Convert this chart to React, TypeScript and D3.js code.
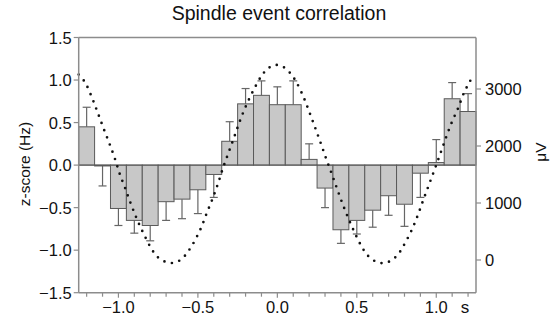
import React from "react";
import * as d3 from "d3";

const binCenters = [-1.2, -1.1, -1.0, -0.9, -0.8, -0.7, -0.6, -0.5, -0.4, -0.3, -0.2, -0.1, 0.0, 0.1, 0.2, 0.3, 0.4, 0.5, 0.6, 0.7, 0.8, 0.9, 1.0, 1.1, 1.2];
const barValues = [0.45, -0.01, -0.51, -0.65, -0.71, -0.43, -0.40, -0.29, -0.11, 0.28, 0.72, 0.82, 0.71, 0.71, 0.067, -0.27, -0.76, -0.65, -0.53, -0.36, -0.46, -0.095, 0.03, 0.78, 0.63];
const errorEnds = [0.68, -0.245, -0.71, -0.80, -0.89, -0.65, -0.63, -0.57, -0.38, 0.51, 0.90, 0.99, 0.92, 0.99, 0.25, -0.50, -0.92, -0.81, -0.73, -0.59, -0.72, -0.38, 0.30, 0.97, 0.84];

const lineTimes = [-1.25, -1.21, -1.166, -1.129, -1.093, -1.057, -1.022, -0.991, -0.955, -0.919, -0.881, -0.837, -0.785, -0.746, -0.695, -0.649, -0.601, -0.561, -0.53, -0.482, -0.444, -0.406, -0.372, -0.341, -0.306, -0.272, -0.237, -0.199, -0.153, -0.1, -0.058, -0.011, 0.038, 0.084, 0.117, 0.163, 0.201, 0.237, 0.272, 0.306, 0.341, 0.375, 0.41, 0.448, 0.49, 0.54, 0.576, 0.626, 0.674, 0.722, 0.766, 0.796, 0.844, 0.884, 0.919, 0.955, 0.991, 1.026, 1.06, 1.097, 1.139, 1.175, 1.2, 1.227];
const lineValues = [3254, 3116, 2845, 2575, 2305, 2046, 1776, 1504, 1240, 965, 700, 436, 164, 35, -41, -48, 18, 153, 287, 552, 824, 1088, 1353, 1623, 1892, 2152, 2429, 2693, 2963, 3228, 3363, 3422, 3386, 3268, 3134, 2870, 2598, 2328, 2058, 1787, 1522, 1257, 988, 723, 459, 189, 58, -35, -53, 0, 123, 259, 517, 788, 1058, 1328, 1600, 1869, 2139, 2411, 2675, 2940, 3074, 3210];

const leftTicks = [1.5, 1.0, 0.5, 0.0, -0.5, -1.0, -1.5];
const rightTicks = [0, 1000, 2000, 3000];
const xMajorTicks = [-1.0, -0.5, 0.0, 0.5, 1.0];
const xMinorTicks = [-1.2, -1.1, -0.9, -0.8, -0.7, -0.6, -0.4, -0.3, -0.2, -0.1, 0.1, 0.2, 0.3, 0.4, 0.6, 0.7, 0.8, 0.9, 1.1, 1.2];

const fmt = (v: number) => d3.format(".1f")(v).replace("-", "\u2212");

export default function App() {
  const W = 552, H = 321;
  const L = 78.7, R = 476, T = 37.5, B = 292.7;
  const x = d3.scaleLinear().domain([-1.25, 1.25]).range([L, R]);
  const y = d3.scaleLinear().domain([-1.5, 1.5]).range([B, T]);
  const y2 = d3.scaleLinear().domain([0, 3000]).range([260, 89]);
  const binW = 0.1;
  const axisColor = "#8c8c8c";
  const font = "'Liberation Sans', Arial, Helvetica, sans-serif";
  const tickFs = 16.5;
  const line = d3.line<number>()
    .x((_, i) => x(lineTimes[i]))
    .y((d) => y2(d))
    .curve(d3.curveCatmullRom);

  return (
    <svg width={W} height={H} style={{ position: "absolute", left: 0, top: 0 }} fontFamily={font}>
      <rect x={0} y={0} width={W} height={H} fill="#fff" />
      <text x={279} y={20} textAnchor="middle" fontSize={19.5} fill="#111">Spindle event correlation</text>

      {/* bars */}
      {binCenters.map((c, i) => {
        const v = barValues[i];
        const x0 = x(c - binW / 2), x1 = x(c + binW / 2);
        const yTop = y(Math.max(0, v)), yBot = y(Math.min(0, v));
        const e = errorEnds[i];
        const xc = x(c);
        return (
          <g key={i}>
            <line x1={xc} x2={xc} y1={y(v)} y2={y(e)} stroke="#666" strokeWidth={1.2} />
            <line x1={xc - 4} x2={xc + 4} y1={y(e)} y2={y(e)} stroke="#666" strokeWidth={1.2} />
            <rect x={x0} y={yTop} width={x1 - x0} height={Math.max(0.5, yBot - yTop)} fill="#c8c8c8" stroke="#5a5a5a" strokeWidth={1} />
          </g>
        );
      })}
      <line x1={L} x2={R} y1={y(0)} y2={y(0)} stroke="#5a5a5a" strokeWidth={1} />

      {/* dotted line */}
      <path d={line(lineValues) || ""} fill="none" stroke="#111" strokeWidth={2.7} strokeLinecap="round" strokeDasharray="0 7.7" />

      {/* frame */}
      <line x1={L} x2={R} y1={T} y2={T} stroke={axisColor} strokeWidth={1.5} />
      <line x1={L} x2={L} y1={T} y2={B} stroke={axisColor} strokeWidth={1.5} />
      <line x1={R} x2={R} y1={T} y2={B} stroke={axisColor} strokeWidth={1.5} />
      <line x1={L} x2={R} y1={B} y2={B} stroke={axisColor} strokeWidth={1.5} />

      {/* left axis */}
      {leftTicks.map((t) => (
        <g key={t}>
          <line x1={L - 5} x2={L} y1={y(t)} y2={y(t)} stroke={axisColor} strokeWidth={1.2} />
          <text x={L - 7} y={y(t) + 6} textAnchor="end" fontSize={tickFs} fill="#111">{fmt(t)}</text>
        </g>
      ))}
      <text transform={`translate(30,${164}) rotate(-90)`} textAnchor="middle" fontSize={15.5} fill="#111">z-score (Hz)</text>

      {/* right axis */}
      {rightTicks.map((t) => (
        <g key={t}>
          <line x1={R} x2={R + 5} y1={y2(t)} y2={y2(t)} stroke={axisColor} strokeWidth={1.2} />
          <text x={R + 9} y={y2(t) + 6} textAnchor="start" fontSize={tickFs} fill="#111">{t}</text>
        </g>
      ))}
      <text transform={`translate(546,${152}) rotate(-90)`} textAnchor="middle" fontSize={15.5} fill="#111">μV</text>

      {/* bottom axis */}
      {xMinorTicks.map((t) => (
        <line key={"m" + t} x1={x(t)} x2={x(t)} y1={B} y2={B + 4} stroke={axisColor} strokeWidth={1.2} />
      ))}
      {xMajorTicks.map((t) => (
        <g key={t}>
          <line x1={x(t)} x2={x(t)} y1={B} y2={B + 5} stroke={axisColor} strokeWidth={1.2} />
          <text x={x(t)} y={313} textAnchor="middle" fontSize={tickFs} fill="#111">{fmt(t)}</text>
        </g>
      ))}
      <text x={465} y={313} textAnchor="middle" fontSize={17} fill="#111">s</text>
    </svg>
  );
}
